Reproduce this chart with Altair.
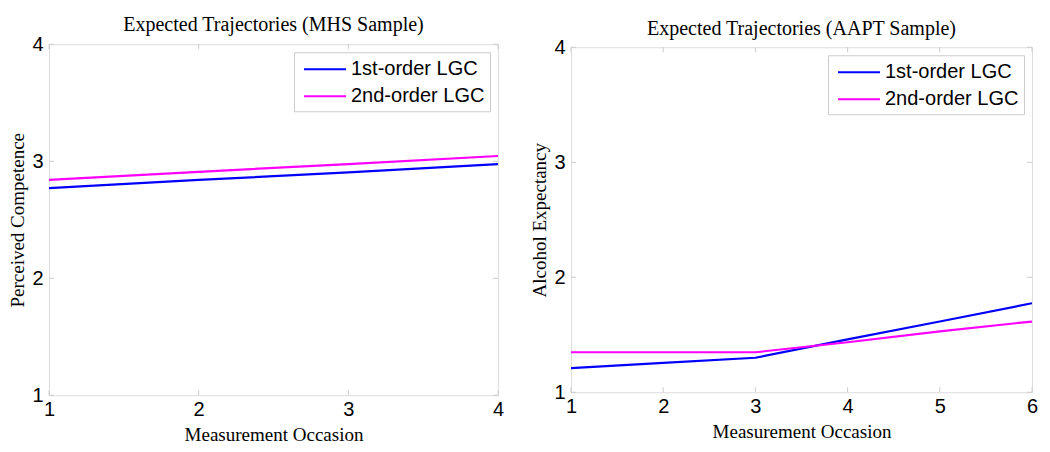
import altair as alt
import pandas as pd

# Left panel (MHS sample)
mhs_occasion = [1, 2, 3, 4]
mhs_first = [2.77, 2.84, 2.905, 2.975]
mhs_second = [2.84, 2.91, 2.975, 3.045]

# Right panel (AAPT sample)
aapt_occasion = [1, 2, 3, 4, 5, 6]
aapt_first = [1.21, 1.255, 1.30, 1.46, 1.615, 1.774]
aapt_second = [1.348, 1.348, 1.348, 1.435, 1.53, 1.615]

series_names = ["1st-order LGC", "2nd-order LGC"]
series_colors = ["#0000FF", "#FF00FF"]
y_ticks = [1, 2, 3, 4]

SERIF = "Liberation Serif"
SANS = "Liberation Sans"
FRAME = "#cccccc"


def long_df(occ, a, b):
    rows = []
    for x, v in zip(occ, a):
        rows.append({"occ": x, "val": v, "series": series_names[0]})
    for x, v in zip(occ, b):
        rows.append({"occ": x, "val": v, "series": series_names[1]})
    return pd.DataFrame(rows)


def panel(occ, a, b, title, ytitle, w, h, title_offset, title_dy):
    df = long_df(occ, a, b)
    xs = alt.Scale(domain=[min(occ), max(occ)], nice=False)
    ys = alt.Scale(domain=[1, 4], nice=False)
    lines = alt.Chart(df).mark_line(strokeWidth=2.2, clip=True).encode(
        x=alt.X("occ:Q", scale=xs, title="Measurement Occasion",
                axis=alt.Axis(values=occ, format="d", grid=False, ticks=False,
                              domain=False, labelFontSize=20, labelFont=SANS,
                              labelColor="black", labelPadding=4, labelFlush=False,
                              titleFont=SERIF, titleFontSize=19, titleFontWeight="normal",
                              titleColor="black", titlePadding=6)),
        y=alt.Y("val:Q", scale=ys, title=ytitle,
                axis=alt.Axis(values=y_ticks, format="d", grid=False, ticks=False,
                              domain=False, labelFontSize=20, labelFont=SANS,
                              labelColor="black", labelPadding=6, labelFlush=False,
                              titleFont=SERIF, titleFontSize=19, titleFontWeight="normal",
                              titleColor="black", titlePadding=4)),
        color=alt.Color("series:N", scale=alt.Scale(domain=series_names, range=series_colors),
                        legend=alt.Legend(title=None, orient="top-right", offset=8,
                                          symbolType="M-2,0L2,0", symbolSize=441,
                                          symbolStrokeWidth=2.2, symbolFillColor="transparent",
                                          labelFont=SANS,
                                          labelFontSize=20, labelColor="black",
                                          fillColor="white", strokeColor=FRAME,
                                          padding=5, rowPadding=5, labelOffset=14,
                                          symbolOffset=14)),
    )
    tdf = pd.DataFrame({"occ": occ})
    ydf = pd.DataFrame({"val": y_ticks})
    bt = alt.Chart(tdf).mark_rule(color=FRAME).encode(
        x=alt.X("occ:Q", scale=xs), y=alt.value(h), y2=alt.value(h - 5))
    tt = alt.Chart(tdf).mark_rule(color=FRAME).encode(
        x=alt.X("occ:Q", scale=xs), y=alt.value(0), y2=alt.value(5))
    lt = alt.Chart(ydf).mark_rule(color=FRAME).encode(
        y=alt.Y("val:Q", scale=ys), x=alt.value(0), x2=alt.value(5))
    rt = alt.Chart(ydf).mark_rule(color=FRAME).encode(
        y=alt.Y("val:Q", scale=ys), x=alt.value(w), x2=alt.value(w - 5))
    return alt.layer(bt, tt, lt, rt, lines).properties(
        width=w, height=h,
        title=alt.Title(title, font=SERIF, fontSize=20, fontWeight="normal",
                        color="black", offset=title_offset, dy=title_dy),
    )


left = panel(mhs_occasion, mhs_first, mhs_second,
             "Expected Trajectories (MHS Sample)", "Perceived Competence", 449, 351, -1, 0)
right = panel(aapt_occasion, aapt_first, aapt_second,
              "Expected Trajectories (AAPT Sample)", "Alcohol Expectancy", 461, 345, 3, 5)

chart = alt.hconcat(left, right, spacing=25, center=True).resolve_scale(color="independent").properties(
    padding={"top": 6, "left": 0, "right": 0, "bottom": 0}
).configure_view(stroke=FRAME, strokeWidth=1.2).configure(background="white")

chart.save("out.html", embed_options={"renderer": "svg", "actions": False})
